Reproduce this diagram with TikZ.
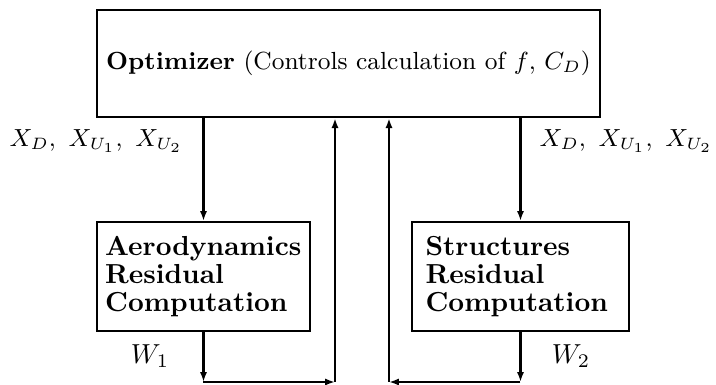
\documentclass[tikz,border=0pt]{standalone}
\usepackage{amsmath,amssymb}
\usepackage{xcolor}
\usepackage{tikz}
\usetikzlibrary{arrows.meta,shapes}

\begin{document}
\begin{tikzpicture}[x=0.3636pt,y=-0.3636pt,
    box/.style={rectangle, draw, line width=0.75pt, inner ysep=0pt},
    flow/.style={line width=0.75pt, -{Latex[length=3.6pt,width=2.6pt]}}]
    \useasboundingbox (0,0) rectangle (716,385);
    \node [box, font=\fontsize{9}{11}\selectfont, minimum width=183pt, minimum height=39pt] (opt) at (348.5,63.5)
      {\textbf{Optimizer} (Controls calculation of $f$, $C_D$)};
    \node [box, font=\bfseries\fontsize{10}{10.2}\selectfont, align=left,
      text width=71.5pt, inner xsep=3pt, minimum height=39.6pt] (aero) at (203.5,276.5)
      {Aerodynamics\\Residual\\Computation};
    \node [box, font=\bfseries\fontsize{10}{10.2}\selectfont, align=left,
      text width=69pt, inner xsep=5pt, minimum height=39.6pt] (struc) at (520.5,276.5)
      {Structures\\Residual\\Computation};
    \node [font=\fontsize{9}{11}\selectfont] (xaero) at (96,141) {$X_D,\ X_{U_1},\ X_{U_2}$};
    \node [font=\fontsize{9}{11}\selectfont] (xstruc) at (626,141) {$X_D,\ X_{U_1},\ X_{U_2}$};
    \node (waero) at (150,356) {$W_1$};
    \node (wstruc) at (571,356) {$W_2$};
    \coordinate (aerobot) at (aero.south |- 0,382);
    \coordinate (aeroret) at (335,382);
    \coordinate (strucbot) at (struc.south |- 0,382);
    \coordinate (strucret) at (389,382);
    % design variables down
    \draw [flow] (aero.north |- opt.south) -- (aero.north);
    \draw [flow] (struc.north |- opt.south) -- (struc.north);
    % states back up
    \draw [flow] (aero.south) -- (aerobot);
    \draw [flow] (aerobot) -- (aeroret);
    \draw [flow] (aeroret) -- (aeroret |- opt.south);
    \draw [flow] (struc.south) -- (strucbot);
    \draw [flow] (strucbot) -- (strucret);
    \draw [flow] (strucret) -- (strucret |- opt.south);
\end{tikzpicture}
\end{document}
